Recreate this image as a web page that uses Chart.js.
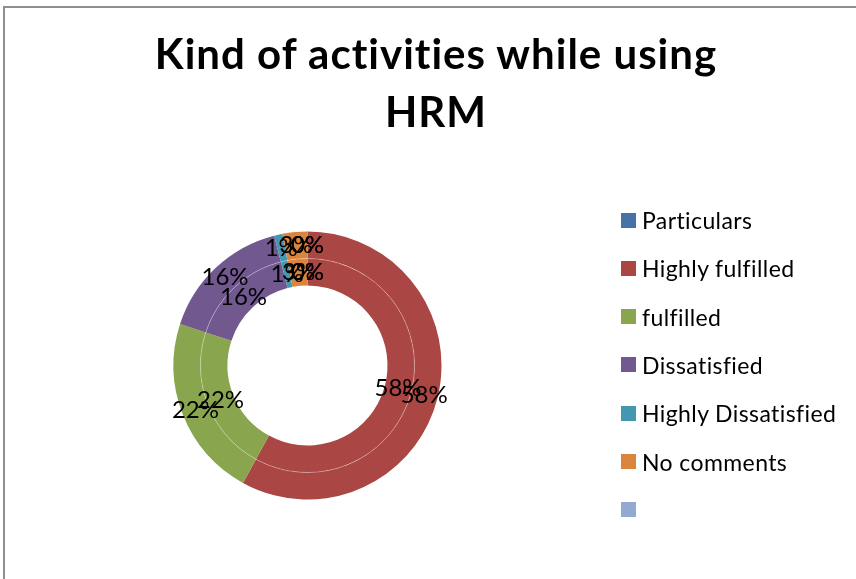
<!DOCTYPE html>
<html>
<head>
<meta charset="utf-8">
<title>Kind of activities while using HRM</title>
<script src="https://cdn.jsdelivr.net/npm/chart.js@4.4.1/dist/chart.umd.min.js"></script>
<style>
  html, body { margin: 0; padding: 0; background: #fff; }
  #wrap { position: relative; width: 856px; height: 579px; overflow: hidden; }
  #frame { position: absolute; left: 3px; top: 6px; width: 900px; height: 620px;
           border-left: 2px solid #8e8e8e; border-top: 2px solid #8e8e8e; }
  #title { position: absolute; left: 0; width: 872px; top: 25px; text-align: center;
           font-family: Lato, "Liberation Sans", sans-serif; font-weight: 700;
           font-size: 42px; letter-spacing: 1px; line-height: 57.6px; color: #000;
           font-variant-ligatures: none; }
  #legend { position: absolute; left: 621px; top: 0; font-family: Lato, "Liberation Sans", sans-serif;
            font-size: 23px; letter-spacing: 0.4px; color: #000; font-variant-ligatures: none; }
  .item { position: absolute; left: 0; height: 26px; white-space: nowrap; }
  .swatch { position: absolute; left: 0; top: 5.5px; width: 15px; height: 15px; }
  .text { position: absolute; left: 21px; top: 0; line-height: 26px; }
  canvas { position: absolute; left: 0; top: 0; }
</style>
</head>
<body>
<div id="wrap">
  <div id="frame"></div>
  <canvas id="chart" width="856" height="579"></canvas>
  <div id="title"></div>
  <div id="legend"></div>
</div>
<script>
// Response categories, in drawing order (clockwise from 12 o'clock)
const categories = ['Particulars', 'Highly fulfilled', 'fulfilled', 'Dissatisfied', 'Highly Dissatisfied', 'No comments', ''];
// Percent shares for the outer and inner rings
const outerValues = [0, 58, 22, 16, 1, 3, 0];
const innerValues = [0, 58, 22, 16, 1, 3, 0];
const sliceColors = ['#4572A7', '#AA4643', '#89A54E', '#71588F', '#4198AF', '#DB843D', '#93A9CF'];
const titleLines = ['Kind of activities while using', 'HRM'];

// Title
const titleEl = document.getElementById('title');
titleLines.forEach(function (line) {
  const d = document.createElement('div');
  d.textContent = line;
  titleEl.appendChild(d);
});

// Legend
const legendEl = document.getElementById('legend');
const legendTop = 207, legendStep = 48.3;
categories.forEach(function (name, i) {
  const item = document.createElement('div');
  item.className = 'item';
  item.style.top = (legendTop + i * legendStep) + 'px';
  const sw = document.createElement('div');
  sw.className = 'swatch';
  sw.style.background = sliceColors[i];
  const tx = document.createElement('div');
  tx.className = 'text';
  tx.textContent = name;
  item.appendChild(sw);
  item.appendChild(tx);
  legendEl.appendChild(item);
});

// Percent labels at each slice's centroid
const sliceLabels = {
  id: 'sliceLabels',
  afterDatasetsDraw(chart) {
    const ctx = chart.ctx;
    ctx.save();
    ctx.font = '24px Lato, "Liberation Sans", sans-serif';
    ctx.fillStyle = '#000';
    ctx.textAlign = 'center';
    ctx.textBaseline = 'middle';
    chart.data.datasets.forEach(function (ds, di) {
      const meta = chart.getDatasetMeta(di);
      meta.data.forEach(function (arc, i) {
        const p = arc.tooltipPosition();
        ctx.fillText(ds.data[i] + '%', p.x, p.y);
      });
    });
    ctx.restore();
  }
};

// Thin light ring between the two series
const ringDivider = {
  id: 'ringDivider',
  afterDatasetsDraw(chart) {
    const arc = chart.getDatasetMeta(1).data[0];
    if (!arc) return;
    const ctx = chart.ctx;
    ctx.save();
    ctx.strokeStyle = 'rgba(255,255,255,0.3)';
    ctx.lineWidth = 1;
    ctx.beginPath();
    ctx.arc(arc.x, arc.y, arc.outerRadius, 0, Math.PI * 2);
    ctx.stroke();
    ctx.restore();
  }
};

new Chart(document.getElementById('chart'), {
  type: 'doughnut',
  data: {
    labels: categories,
    datasets: [
      { label: 'Series1', data: outerValues, backgroundColor: sliceColors, borderWidth: 0 },
      { label: 'Series2', data: innerValues, backgroundColor: sliceColors, borderWidth: 0 }
    ]
  },
  options: {
    responsive: false,
    animation: false,
    cutout: '59.7%',
    hoverOffset: 0,
    layout: { padding: { left: 173.5, right: 414.5, top: 231.5, bottom: 79.5 } },
    plugins: {
      legend: { display: false },
      title: { display: false },
      tooltip: { enabled: false }
    }
  },
  plugins: [ringDivider, sliceLabels]
});
</script>
</body>
</html>
